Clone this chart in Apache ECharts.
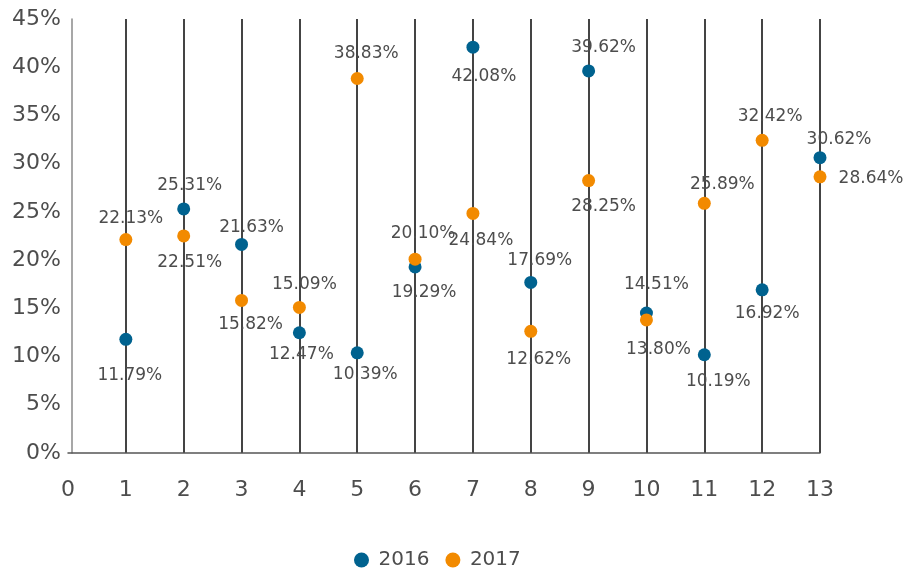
<!DOCTYPE html>
<html>
<head>
<meta charset="utf-8">
<script src="https://cdn.jsdelivr.net/npm/echarts@6/dist/echarts.min.js"></script>
<style>
  html, body { margin: 0; padding: 0; background: #fff; }
  #chart { width: 910px; height: 576px; }
</style>
</head>
<body>
<div id="chart"></div>
<script>
// x positions (1..13)
const positions = [1, 2, 3, 4, 5, 6, 7, 8, 9, 10, 11, 12, 13];
const values2016 = [11.79, 25.31, 21.63, 12.47, 10.39, 19.29, 42.08, 17.69, 39.62, 14.51, 10.19, 16.92, 30.62];
const values2017 = [22.13, 22.51, 15.82, 15.09, 38.83, 20.10, 24.84, 12.62, 28.25, 13.80, 25.89, 32.42, 28.64];
const yTicks = [0, 5, 10, 15, 20, 25, 30, 35, 40, 45];

// label offsets from the dot centre (style only)
const offsets2016 = [[4, 36], [6, -23], [10, -17], [2, 22], [8, 22], [9, 26], [11, 29],
  [9, -22], [15, -23], [10, -28], [14, 27], [5, 24], [19, -18]];
const offsets2017 = [[5, -21], [6, 27], [9, 24], [5, -23], [9, -25], [8, -26], [8, 27],
  [8, 28], [15, 26], [12, 30], [18, -19], [8, -24], [51, 2]];

const FONT = 'DejaVu Sans';
const TEXT = '#4d4d4d';

const chart = echarts.init(document.getElementById('chart'));

const makeSeries = (name, values, offsets, color) => ({
  name: name,
  type: 'scatter',
  symbol: 'circle',
  symbolSize: 13,
  itemStyle: { color: color, opacity: 1 },
  data: values.map((v, i) => ({
    value: [positions[i], v],
    label: { offset: offsets[i] }
  })),
  label: {
    show: true,
    position: 'inside',
    color: TEXT,
    fontFamily: FONT,
    fontSize: 17,
    formatter: (p) => p.value[1].toFixed(2) + '%'
  },
  emphasis: { disabled: true }
});

chart.setOption({
  backgroundColor: '#fff',
  animation: false,
  grid: { left: 68, right: 90, top: 19, bottom: 123 },
  legend: {
    bottom: 1,
    left: 349,
    itemWidth: 24,
    itemHeight: 15,
    itemGap: 16,
    icon: 'circle',
    textStyle: { color: TEXT, fontFamily: FONT, fontSize: 20 },
    data: ['2016', '2017']
  },
  xAxis: {
    type: 'value',
    min: 0,
    max: 13,
    interval: 1,
    axisLine: { show: true, lineStyle: { color: '#555', width: 1.5 } },
    axisTick: { show: false },
    axisLabel: { color: TEXT, fontFamily: FONT, fontSize: 22, margin: 26 },
    splitLine: {
      show: true,
      showMinLine: false,
      lineStyle: { color: '#444', width: 2 }
    }
  },
  yAxis: {
    type: 'value',
    min: yTicks[0],
    max: yTicks[yTicks.length - 1],
    interval: 5,
    offset: -4,
    axisLine: { show: true, lineStyle: { color: '#8a8a8a', width: 1.5 } },
    axisTick: { show: false },
    axisLabel: { color: TEXT, fontFamily: FONT, fontSize: 22, margin: 11, formatter: '{value}%' },
    splitLine: { show: false }
  },
  series: [
    makeSeries('2016', values2016, offsets2016, '#00628f'),
    makeSeries('2017', values2017, offsets2017, '#f28a00')
  ]
});
</script>
</body>
</html>
